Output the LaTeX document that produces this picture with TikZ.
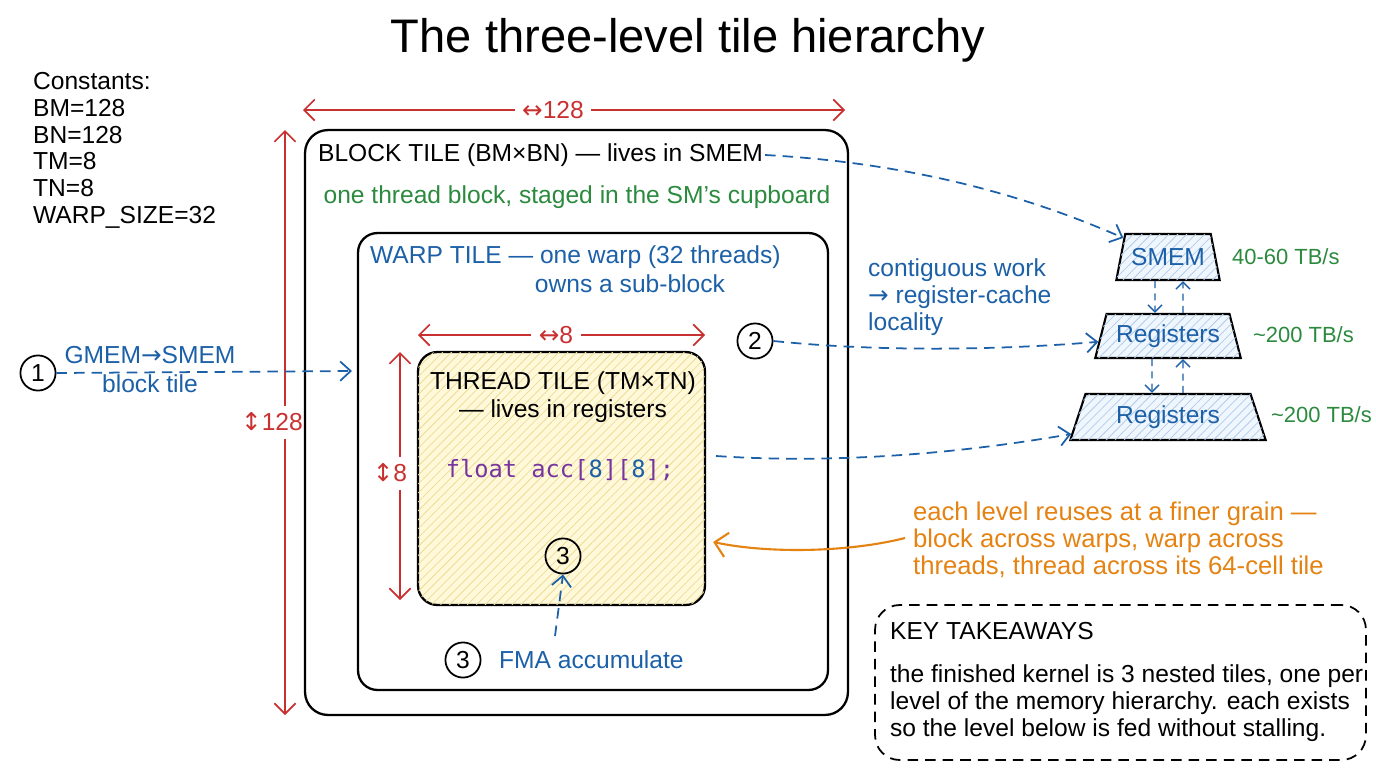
\documentclass[tikz,border=0pt]{standalone}
\usepackage{fontspec}
\setmainfont{Liberation Sans}
\setmonofont{DejaVu Sans Mono}
\newfontfamily\arrowfont{DejaVu Sans}
\usepackage{tikz}
\usetikzlibrary{shapes.geometric, arrows.meta, positioning, calc, patterns.meta}
\usepackage{xcolor}
\definecolor{dimred}{RGB}{201,48,48}
\definecolor{inkblue}{RGB}{28,96,168}
\definecolor{inkgreen}{RGB}{43,138,62}
\definecolor{inkorange}{RGB}{228,130,18}
\definecolor{codepurple}{RGB}{118,52,158}
\definecolor{tilefill}{RGB}{255,249,218}
\definecolor{tilehatch}{RGB}{236,220,150}
\definecolor{memfill}{RGB}{240,246,253}
\definecolor{memhatch}{RGB}{178,204,236}

\tikzset{
  txt/.style={font=\fontsize{14}{15.3}\selectfont, inner sep=1pt},
  bwlbl/.style={txt, text=inkgreen, anchor=west, font=\fontsize{12.5}{15}\selectfont},
  dimlbl/.style={txt, text=dimred, inner sep=4pt},
  tile/.style={draw, line width=1.3pt, rounded corners=11pt},
  hatch/.style={pattern={Lines[angle=45, distance=3.6pt, line width=0.45pt]}},
  dimline/.style={dimred, line width=1pt, -{Straight Barb[length=6pt,width=12pt]}},
  flow/.style={inkblue, line width=1pt, dash pattern=on 6pt off 4pt, -{Straight Barb[length=6pt,width=11pt]}},
  flowsmall/.style={inkblue, line width=0.8pt, dash pattern=on 4pt off 3pt, -{Straight Barb[length=4pt,width=8pt]}},
  badge/.style={circle, draw, line width=1pt, minimum size=20pt, inner sep=0pt, font=\fontsize{14}{15}\selectfont},
  memlevel/.style={trapezium, trapezium angle=73, trapezium stretches=true, draw, line width=1.2pt,
    fill=memfill, postaction={hatch, pattern color=memhatch}, text=inkblue,
    font=\fontsize{14}{15}\selectfont},
  takeaway/.style={draw, line width=1pt, dash pattern=on 6pt off 4pt, rounded corners=14pt},
}

\begin{document}
\begin{tikzpicture}[x=0.02cm, y=-0.02cm]
  \useasboundingbox (0,0) rectangle (1376,768);
  % title and constants
  \node[font=\fontsize{26.8}{30}\selectfont] (title) at (688,40) {The three-level tile hierarchy};
  \node[txt, anchor=north west, align=left] (consts) at (31,70)
    {Constants:\\BM=128\\BN=128\\TM=8\\TN=8\\WARP\_SIZE=32};

  % nested tiles
  \node[tile, rounded corners=13pt, minimum width=10.86cm, minimum height=11.7cm] (block) at (576.5,422.5) {};
  \node[tile, minimum width=9.4cm, minimum height=9.14cm] (warp) at (593,461.5) {};
  \node[tile, fill=tilefill, postaction={hatch, pattern color=tilehatch},
        minimum width=5.74cm, minimum height=5.06cm] (thread) at (561.5,478.5) {};

  \node[txt, anchor=west] (blocklbl) at (316,155) {BLOCK TILE (BM×BN) — lives in SMEM};
  \node[txt, text=inkgreen] (blocknote) at (577,197) {one thread block, staged in the SM's cupboard};
  \node[txt, text=inkblue, anchor=west] (warplbl) at (368,257) {WARP TILE — one warp (32 threads)};
  \node[txt, text=inkblue] (warpnote) at (630,284) {owns a sub-block};
  \node[txt, align=center, font=\fontsize{14}{16}\selectfont] (threadlbl) at (563,397)
    {THREAD TILE (TM×TN)\\— lives in registers};
  \node[font=\ttfamily\fontsize{13.5}{16}\selectfont, text=codepurple] (code) at (560,470)
    {float acc[\textcolor{inkblue}{8}][\textcolor{inkblue}{8}];};

  % dimensions
  \node[dimlbl] (blkw) at (553,110) {{\arrowfont ↔}128};
  \coordinate (blkwl) at (303,110);
  \coordinate (blkwr) at (845,110);
  \draw[dimline] (blkw.west) -- (blkwl);
  \draw[dimline] (blkw.east) -- (blkwr);
  \node[dimlbl] (blkh) at (272,422) {{\arrowfont ↕}128};
  \coordinate (blkht) at (285,130);
  \coordinate (blkhb) at (285,715);
  \draw[dimline] (blkh.north -| blkht) -- (blkht);
  \draw[dimline] (blkh.south -| blkhb) -- (blkhb);
  \node[dimlbl] (thw) at (556,335) {{\arrowfont ↔}8};
  \coordinate (thwl) at (418,335);
  \coordinate (thwr) at (705,335);
  \draw[dimline] (thw.west) -- (thwl);
  \draw[dimline] (thw.east) -- (thwr);
  \node[dimlbl] (thh) at (390,473) {{\arrowfont ↕}8};
  \coordinate (thht) at (400,352);
  \coordinate (thhb) at (400,600);
  \draw[dimline] (thh.north -| thht) -- (thht);
  \draw[dimline] (thh.south -| thhb) -- (thhb);

  % steps
  \node[badge] (b1) at (38,373) {1};
  \node[badge] (b2) at (755,341) {2};
  \node[badge] (b3in) at (563,556) {3};
  \node[badge] (b3) at (463,660) {3};
  \node[txt, text=inkblue, anchor=west] (fma) at (497,660) {FMA accumulate};
  \node[txt, text=inkblue] (gmemlbl) at (150,355) {GMEM{\arrowfont →}SMEM};
  \node[txt, text=inkblue] (gmemsub) at (150,384) {block tile};
  \coordinate (gmemend) at (352,371);
  \draw[flow] (b1.east) -- (gmemend);
  \coordinate (fmastart) at (555,636);
  \draw[flow] (fmastart) -- (b3in.south);

  % memory levels
  \node[memlevel, minimum width=2.02cm, minimum height=0.92cm] (smem) at (1168,257) {SMEM};
  \node[memlevel, minimum width=2.92cm, minimum height=0.88cm] (reg1) at (1168,336) {Registers};
  \node[memlevel, minimum width=3.92cm, minimum height=0.92cm] (reg2) at (1168,417) {Registers};
  \node[bwlbl] (bw1) at (1230,257) {40-60 TB/s};
  \node[bwlbl] (bw2) at (1251,335) {\textasciitilde200 TB/s};
  \node[bwlbl] (bw3) at (1269,415) {\textasciitilde200 TB/s};
  \draw[flowsmall] ($(smem.south)+(-13,0)$) -- ($(reg1.north)+(-13,0)$);
  \draw[flowsmall] ($(reg1.north)+(15,0)$) -- ($(smem.south)+(15,0)$);
  \draw[flowsmall] ($(reg1.south)+(-16,0)$) -- ($(reg2.north)+(-16,0)$);
  \draw[flowsmall] ($(reg2.north)+(15,0)$) -- ($(reg1.south)+(15,0)$);

  \node[txt, text=inkblue, anchor=north west, align=left] (contig) at (866,257)
    {contiguous work\\{\arrowfont →} register-cache\\locality};
  \draw[flow] (blocklbl.east) .. controls (950,165) and (1070,215) .. (smem);
  \draw[flow] (b2.east) .. controls (880,352) and (1000,350) .. (reg1);
  \coordinate (accout) at (716,456);
  \draw[flow] (accout) .. controls (850,465) and (980,450) .. (reg2);

  % reuse note
  \node[txt, text=inkorange, anchor=west, align=left, font=\fontsize{14.6}{15.3}\selectfont] (reuse) at (911,540)
    {each level reuses at a finer grain —\\block across warps, warp across\\threads, thread across its 64-cell tile};
  \draw[inkorange, line width=1.2pt, -{Straight Barb[length=7pt,width=14pt]}]
    ($(reuse.west)+(-6,-2)$) .. controls (850,552) and (770,554) .. ($(thread.east |- reuse.west)+(7,2)$);

  % takeaways
  \node[takeaway, minimum width=9.82cm, minimum height=3.1cm] (keybox) at (1120.5,682.5) {};
  \node[txt, anchor=west] (keyhead) at (888,631) {KEY TAKEAWAYS};
  \node[txt, anchor=north west, align=left] (keytext) at (888,663)
    {the finished kernel is 3 nested tiles, one per\\level of the memory hierarchy. each exists\\so the level below is fed without stalling.};
\end{tikzpicture}
\end{document}
